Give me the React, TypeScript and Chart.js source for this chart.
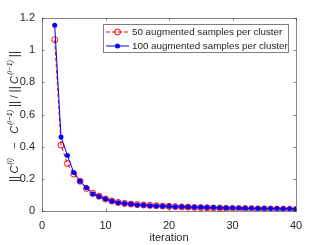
import React, { useEffect, useRef } from "react";
import { Chart, registerables } from "chart.js";
Chart.register(...registerables);

const iterations = [2,3,4,5,6,7,8,9,10,11,12,13,14,15,16,17,18,19,20,21,22,23,24,25,26,27,28,29,30,31,32,33,34,35,36,37,38,39,40];
const series50 = [1.065,0.41,0.295,0.23,0.185,0.14,0.11,0.092,0.075,0.062,0.053,0.047,0.043,0.04,0.037,0.035,0.033,0.031,0.029,0.027,0.025,0.024,0.022,0.021,0.02,0.019,0.018,0.017,0.016,0.015,0.015,0.014,0.013,0.013,0.012,0.011,0.011,0.01,0.009];
const series100 = [1.155,0.46,0.345,0.24,0.185,0.145,0.105,0.09,0.075,0.06,0.052,0.047,0.043,0.038,0.035,0.033,0.031,0.03,0.029,0.027,0.026,0.025,0.024,0.023,0.022,0.021,0.02,0.019,0.019,0.018,0.017,0.017,0.016,0.016,0.015,0.015,0.014,0.014,0.013];
const seriesLabels = ["50 augmented samples per cluster", "100 augmented samples per cluster"];
const xTicks = [0, 10, 20, 30, 40];
const yTicks = [0, 0.2, 0.4, 0.6, 0.8, 1, 1.2];
const xTitle = "iteration";

const FONT = "'Liberation Sans', Arial, Helvetica, sans-serif";
const TEXT = "#262626";
const AXIS = "rgba(38,38,38,0.55)";

const boxPlugin = {
  id: "matlabBox",
  afterDatasetsDraw(chart: any) {
    const { ctx, chartArea: a } = chart;
    const xs = chart.scales.x, ys = chart.scales.y;
    ctx.save();
    ctx.strokeStyle = AXIS;
    ctx.lineWidth = 1;
    ctx.strokeRect(Math.round(a.left) + 0.5, Math.round(a.top) + 0.5, Math.round(a.right - a.left), Math.round(a.bottom - a.top));
    const tl = 2.5;
    ctx.beginPath();
    xTicks.forEach((t) => {
      const px = Math.round(xs.getPixelForValue(t)) + 0.5;
      ctx.moveTo(px, a.bottom); ctx.lineTo(px, a.bottom - tl);
      ctx.moveTo(px, a.top); ctx.lineTo(px, a.top + tl);
    });
    yTicks.forEach((t) => {
      const py = Math.round(ys.getPixelForValue(t)) + 0.5;
      ctx.moveTo(a.left, py); ctx.lineTo(a.left + tl, py);
      ctx.moveTo(a.right, py); ctx.lineTo(a.right - tl, py);
    });
    ctx.stroke();

    // legend
    const lx = 103, ly = 24, lw = 185, lh = 28;
    ctx.fillStyle = "#ffffff";
    ctx.fillRect(lx, ly, lw, lh);
    ctx.strokeStyle = "rgba(38,38,38,0.6)";
    ctx.strokeRect(lx + 0.5, ly + 0.5, lw, lh);
    const rows = [
      { y: 32, color: "#ff0000", dash: [4, 2], open: true, label: seriesLabels[0] },
      { y: 46, color: "#0000ff", dash: [], open: false, label: seriesLabels[1] },
    ];
    rows.forEach((r) => {
      ctx.strokeStyle = r.color;
      ctx.lineWidth = 1;
      ctx.setLineDash(r.dash);
      ctx.beginPath();
      ctx.moveTo(106, r.y); ctx.lineTo(129, r.y);
      ctx.stroke();
      ctx.setLineDash([]);
      ctx.beginPath();
      ctx.arc(117.5, r.y, r.open ? 3 : 2.5, 0, Math.PI * 2);
      if (r.open) { ctx.stroke(); } else { ctx.fillStyle = r.color; ctx.fill(); }
      ctx.fillStyle = TEXT;
      ctx.font = `9.8px ${FONT}`;
      ctx.textBaseline = "middle";
      ctx.textAlign = "left";
      ctx.fillText(r.label, 132, r.y + 0.5);
    });

    // y label (rich): w = weight of gap before the segment
    const segs: { t: string; it?: boolean; sup?: boolean; bar?: boolean; w: number }[] = [
      { t: "||", bar: true, w: 0 }, { t: "C", it: true, w: 0.5 }, { t: "(i)", sup: true, it: true, w: 0.2 },
      { t: "−", w: 2 }, { t: "C", it: true, w: 2 }, { t: "(i−1)", sup: true, it: true, w: 0.2 },
      { t: "||", bar: true, w: 0.6 }, { t: "/", w: 0.6 }, { t: "||", bar: true, w: 0.6 }, { t: "C", it: true, w: 0.5 },
      { t: "(i−1)", sup: true, it: true, w: 0.2 }, { t: "||", bar: true, w: 0.6 },
    ];
    const target = 131;
    const fontOf = (s: any) => `${s.it ? "italic " : ""}${s.sup ? 7.5 : s.bar ? 12 : 11}px ${FONT}`;
    let natural = 0, wsum = 0;
    segs.forEach((s) => { ctx.font = fontOf(s); natural += ctx.measureText(s.t).width; wsum += s.w; });
    const unit = Math.max(0, (target - natural) / wsum);
    ctx.translate(13.5, 116.5);
    ctx.rotate(-Math.PI / 2);
    ctx.fillStyle = TEXT;
    ctx.textBaseline = "alphabetic";
    let x = -target / 2;
    segs.forEach((s) => {
      ctx.font = fontOf(s);
      x += s.w * unit;
      ctx.fillText(s.t, x, s.sup ? -1.5 : 4);
      x += ctx.measureText(s.t).width;
    });
    ctx.restore();
  },
};

export default function App() {
  const ref = useRef<HTMLCanvasElement>(null);
  useEffect(() => {
    document.body.style.margin = "0";
    const chart = new Chart(ref.current!, {
      type: "line",
      data: {
        datasets: [
          {
            label: seriesLabels[0],
            data: iterations.map((x, i) => ({ x, y: series50[i] })),
            borderColor: "#ff0000",
            borderWidth: 1,
            borderDash: [4, 2],
            pointRadius: 3,
            pointStyle: "circle",
            pointBackgroundColor: "rgba(0,0,0,0)",
            pointBorderColor: "#ff0000",
            pointBorderWidth: 1,
            fill: false,
            order: 1,
          },
          {
            label: seriesLabels[1],
            data: iterations.map((x, i) => ({ x, y: series100[i] })),
            borderColor: "#0000ff",
            borderWidth: 1,
            pointRadius: 2.5,
            pointBackgroundColor: "#0000ff",
            pointBorderColor: "#0000ff",
            pointBorderWidth: 0,
            fill: false,
            order: 0,
          },
        ],
      },
      options: {
        animation: false,
        responsive: false,
        maintainAspectRatio: false,
        layout: { padding: { top: 18, right: 31, left: 0, bottom: 0 } },
        plugins: { legend: { display: false }, tooltip: { enabled: false } },
        scales: {
          x: {
            type: "linear",
            min: 0,
            max: 40,
            afterBuildTicks: (s: any) => { s.ticks = xTicks.map((v) => ({ value: v })); },
            afterFit: (s: any) => { s.height = 34; },
            grid: { display: false, drawTicks: false },
            border: { display: false },
            ticks: { color: TEXT, font: { family: FONT, size: 11 }, padding: 8, maxRotation: 0 },
            title: { display: true, text: xTitle, color: TEXT, font: { family: FONT, size: 11 }, padding: { top: 0, bottom: 0 } },
          },
          y: {
            type: "linear",
            min: 0,
            max: 1.2,
            afterBuildTicks: (s: any) => { s.ticks = yTicks.map((v) => ({ value: v })); },
            afterFit: (s: any) => { s.width = 42; },
            grid: { display: false, drawTicks: false },
            border: { display: false },
            ticks: { color: TEXT, font: { family: FONT, size: 11 }, padding: 7, callback: (v: any) => String(v) },
          },
        },
      },
      plugins: [boxPlugin],
    });
    return () => chart.destroy();
  }, []);
  return (
    <div style={{ position: "relative", width: 327, height: 245, background: "#fff" }}>
      <canvas ref={ref} width={327} height={245} style={{ width: 327, height: 245, display: "block" }} />
    </div>
  );
}
